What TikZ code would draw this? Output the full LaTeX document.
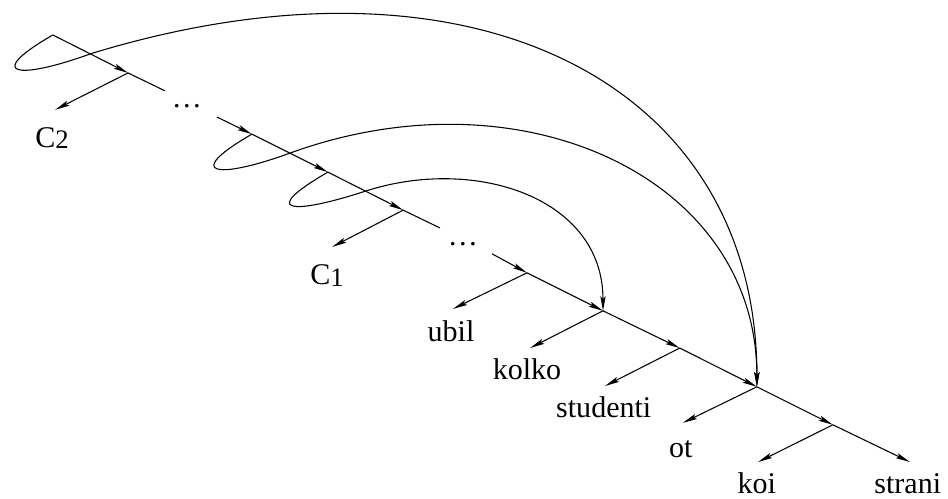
\documentclass[tikz,border=0pt]{standalone}
\usepackage{fontspec}
\setmainfont{Liberation Serif}
\usetikzlibrary{arrows.meta}

\newcommand{\lowsub}[1]{\raisebox{-1.2pt}{\fontsize{20}{24}\selectfont #1}}

\begin{document}
\begin{tikzpicture}[
    arrow/.style={-{Stealth[length=11pt, width=4pt, inset=2.2pt]}, line width=0.8pt},
    plain/.style={line width=0.8pt},
    word/.style={anchor=base, inner sep=0pt, font=\fontsize{22.5}{26}\selectfont}]

    \useasboundingbox (0,0) rectangle (24.95,-13.13);

    % Spine points
    \coordinate (s0) at (1.39,-0.92);
    \coordinate (p1) at (3.37,-1.92);
    \coordinate (e1) at (4.34,-2.39);
    \coordinate (s2) at (5.71,-3.08);
    \coordinate (p2) at (6.63,-3.53);
    \coordinate (p3) at (8.63,-4.53);
    \coordinate (p4) at (10.61,-5.53);
    \coordinate (e2) at (11.58,-6.00);
    \coordinate (s3) at (12.95,-6.68);
    \coordinate (p5) at (13.87,-7.18);
    \coordinate (p6) at (15.87,-8.18);
    \coordinate (p7) at (17.89,-9.16);
    \coordinate (p8) at (19.92,-10.18);
    \coordinate (p9) at (21.92,-11.18);
    \coordinate (p10) at (23.95,-12.16);

    % Crossing points of the loops
    \coordinate (x1) at (2.40,-1.41);
    \coordinate (x2) at (7.63,-4.03);
    \coordinate (x3) at (9.62,-5.03);

    % Branch ends
    \coordinate (t1) at (1.45,-2.89);
    \coordinate (t4) at (8.74,-6.50);
    \coordinate (t5) at (11.92,-8.13);
    \coordinate (t6) at (13.95,-9.16);
    \coordinate (t7) at (15.92,-10.16);
    \coordinate (t8) at (17.97,-11.13);
    \coordinate (t9) at (19.95,-12.16);

    % Words
    \node[word] (c2) at (1.37,-3.87) {C\lowsub{2}};
    \node[word] (c1) at (8.61,-7.50) {C\lowsub{1}};
    \node[word] (ubil) at (11.87,-9.00) {ubil};
    \node[word] (kolko) at (13.87,-10.00) {kolko};
    \node[word] (studenti) at (15.89,-11.00) {studenti};
    \node[word] (ot) at (17.92,-12.05) {ot};
    \node[word] (koi) at (19.92,-12.99) {koi};
    \node[word] (strani) at (23.89,-12.99) {strani};

    % Gaps
    \node[word] (gap1) at (4.92,-2.84) {\dots};
    \node[word] (gap2) at (12.18,-6.47) {\dots};

    % Spine
    \draw[arrow] (s0) -- (p1);
    \draw[plain] (p1) -- (e1);
    \draw[arrow] (s2) -- (p2);
    \draw[arrow] (p2) -- (p3);
    \draw[arrow] (p3) -- (p4);
    \draw[plain] (p4) -- (e2);
    \draw[arrow] (s3) -- (p5);
    \draw[arrow] (p5) -- (p6);
    \draw[arrow] (p6) -- (p7);
    \draw[arrow] (p7) -- (p8);
    \draw[arrow] (p8) -- (p9);
    \draw[arrow] (p9) -- (p10);

    % Branches
    \draw[arrow] (p1) -- (t1);
    \draw[arrow] (p4) -- (t4);
    \draw[arrow] (p5) -- (t5);
    \draw[arrow] (p6) -- (t6);
    \draw[arrow] (p7) -- (t7);
    \draw[arrow] (p8) -- (t8);
    \draw[arrow] (p9) -- (t9);

    % Loops and arcs
    \draw[arrow] (s0) .. controls +(210:2.1) and +(200:2.1) .. (x1)
        .. controls +(17:10.5) and +(90:8) .. (p8);
    \draw[arrow] (p2) .. controls +(210:2.1) and +(200:2.1) .. (x2)
        .. controls +(20:6.5) and +(90:5.5) .. (p8);
    \draw[arrow] (p3) .. controls +(210:2.1) and +(198:2.1) .. (x3)
        .. controls +(18:3) and +(90:3) .. (p6);
\end{tikzpicture}
\end{document}
